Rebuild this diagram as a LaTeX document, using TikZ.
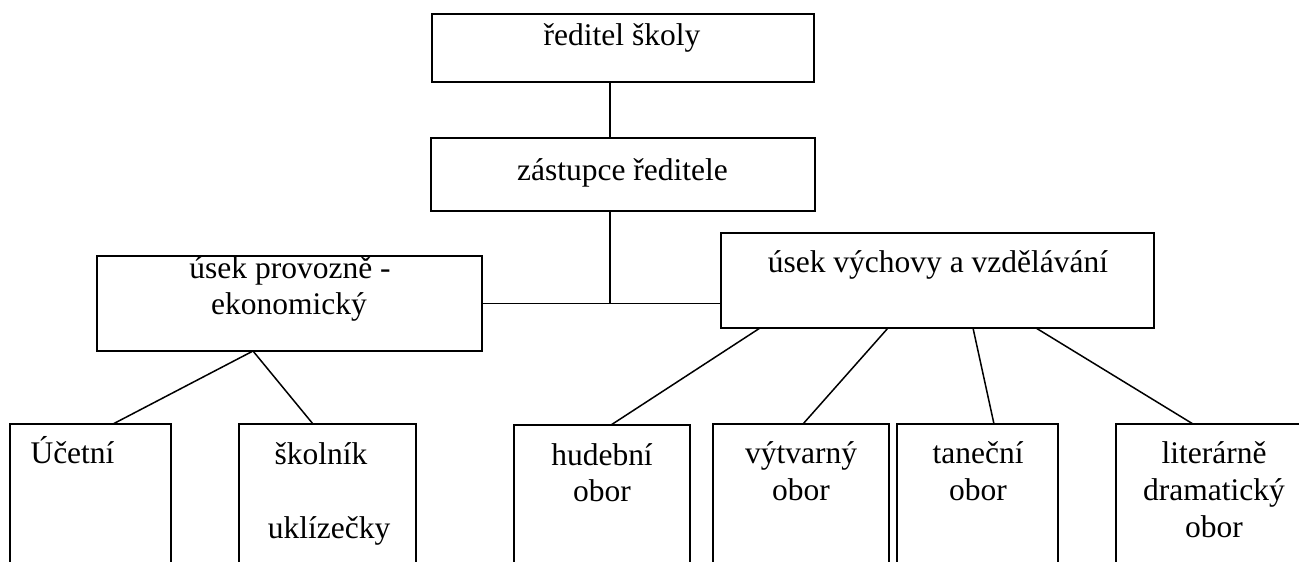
\documentclass[tikz,border=0pt]{standalone}
\usepackage{fontspec}
\setmainfont{Liberation Serif}
\begin{document}
\begin{tikzpicture}[x=1pt,y=-1pt,
  box/.style={draw, line width=1.8pt, rectangle, anchor=north west, inner sep=0pt, outer sep=0pt},
  lbl/.style={anchor=base, inner sep=0pt, font=\fontsize{31.5}{36}\selectfont},
  link/.style={line width=1.5pt}]
\useasboundingbox (0,0) rectangle (1299,562);
\clip (0,0) rectangle (1299,562);
% boxes
\node[box, minimum width=382pt, minimum height=68pt] (dir) at (432,14) {};
\node[box, minimum width=384pt, minimum height=73pt] (zas) at (431,138) {};
\node[box, minimum width=385pt, minimum height=95pt] (prov) at (97,256) {};
\node[box, minimum width=433pt, minimum height=95pt] (vych) at (721,233) {};
\node[box, minimum width=161pt, minimum height=170pt] (uct) at (10,424) {};
\node[box, minimum width=177pt, minimum height=170pt] (skol) at (239,424) {};
\node[box, minimum width=176pt, minimum height=170pt] (hud) at (514,425) {};
\node[box, minimum width=176pt, minimum height=170pt] (vyt) at (713,424) {};
\node[box, minimum width=161pt, minimum height=170pt] (tan) at (897,424) {};
\node[box, minimum width=196pt, minimum height=170pt] (lit) at (1116,424) {};
% texts
\node[lbl] (t1) at (622,45) {ředitel školy};
\node[lbl] (t2) at (622.5,180) {zástupce ředitele};
\node[lbl] (t3a) at (290,278) {úsek provozně -};
\node[lbl] (t3b) at (289,314) {ekonomický};
\node[lbl] (t4) at (938,272) {úsek výchovy a vzdělávání};
\node[lbl] (t5) at (72.5,463) {Účetní};
\node[lbl] (t6a) at (321,464) {školník};
\node[lbl] (t6b) at (329,538) {uklízečky};
\node[lbl] (t7a) at (602,465) {hudební};
\node[lbl] (t7b) at (602,501) {obor};
\node[lbl] (t8a) at (801,463) {výtvarný};
\node[lbl] (t8b) at (801,500) {obor};
\node[lbl] (t9a) at (978,463) {taneční};
\node[lbl] (t9b) at (978,500) {obor};
\node[lbl] (t10a) at (1214,463) {literárně};
\node[lbl] (t10b) at (1214,500) {dramatický};
\node[lbl] (t10c) at (1214,537) {obor};
% connectors
\draw[link] ([xshift=178pt]dir.south west) -- ([xshift=179pt]zas.north west);
\draw[link] ([xshift=179pt]zas.south west) -- ([xshift=179pt]zas.south west |- prov.east);
\draw[link] (prov.east) -- (prov.east -| vych.west);
\draw[link] ([xshift=156pt]prov.south west) -- ([xshift=103pt]uct.north west);
\draw[link] ([xshift=156pt]prov.south west) -- ([xshift=74pt]skol.north west);
\draw[link] ([xshift=39pt]vych.south west) -- ([xshift=97pt]hud.north west);
\draw[link] ([xshift=167pt]vych.south west) -- ([xshift=90pt]vyt.north west);
\draw[link] ([xshift=252pt]vych.south west) -- ([xshift=97pt]tan.north west);
\draw[link] ([xshift=315pt]vych.south west) -- ([xshift=77pt]lit.north west);
\end{tikzpicture}
\end{document}
